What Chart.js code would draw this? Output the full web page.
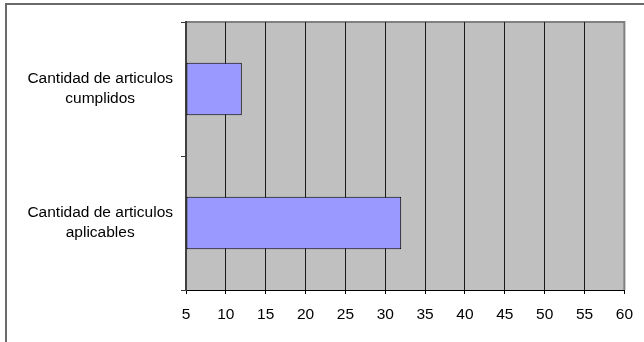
<!DOCTYPE html>
<html>
<head>
<meta charset="utf-8">
<script src="https://cdn.jsdelivr.net/npm/chart.js@4/dist/chart.umd.min.js"></script>
<style>
  html, body { margin: 0; padding: 0; background: #fff; overflow: hidden; }
  #frame {
    position: absolute; left: 5px; top: 3px; width: 700px; height: 400px;
    border-left: 2px solid #6a6a6a; border-top: 2px solid #6a6a6a;
  }
  #wrap { position: absolute; left: 0; top: 0; width: 644px; height: 342px; }
</style>
</head>
<body>
<div id="frame"></div>
<div id="wrap"><canvas id="chart"></canvas></div>
<script>
const categories = [
  ["Cantidad de articulos", "cumplidos"],
  ["Cantidad de articulos", "aplicables"]
];
const values = [12, 32];
const xMin = 5;
const xMax = 60;
const xStep = 5;

// gray plot background with a lighter frame on top and right
const plotBackground = {
  id: "plotBackground",
  beforeDraw(chart) {
    const { ctx, chartArea: a } = chart;
    ctx.save();
    ctx.fillStyle = "#c0c0c0";
    ctx.fillRect(a.left, a.top, a.right - a.left, a.bottom - a.top);
    ctx.strokeStyle = "#808080";
    ctx.lineWidth = 2;
    ctx.beginPath();
    ctx.moveTo(a.left, a.top);
    ctx.lineTo(a.right, a.top);
    ctx.lineTo(a.right, a.bottom);
    ctx.stroke();
    ctx.restore();
  }
};

Chart.defaults.font.family = "'Liberation Sans', Arial, sans-serif";
Chart.defaults.color = "#000";

new Chart(document.getElementById("chart").getContext("2d"), {
  type: "bar",
  data: {
    labels: categories,
    datasets: [{
      data: values,
      base: xMin,
      backgroundColor: "#9999ff",
      borderColor: "#000",
      borderWidth: 1,
      borderSkipped: false,
      barPercentage: 0.39,
      categoryPercentage: 1
    }]
  },
  options: {
    indexAxis: "y",
    responsive: true,
    maintainAspectRatio: false,
    animation: false,
    layout: { padding: { left: 10, top: 22, right: 18, bottom: 0 } },
    plugins: {
      legend: { display: false },
      tooltip: { enabled: false }
    },
    scales: {
      x: {
        min: xMin,
        max: xMax,
        afterFit: s => { s.height = 52; },
        grid: {
          color: c => (c.tick && c.tick.value === xMax ? "#808080" : "#1a1a1a"),
          lineWidth: 1,
          tickLength: 4,
          tickColor: "#000"
        },
        border: { color: "#000", width: 1 },
        ticks: {
          stepSize: xStep,
          padding: 11,
          maxRotation: 0,
          font: { size: 15.5 },
          color: "#000"
        }
      },
      y: {
        afterFit: s => {
          s.width = 176;
          s.paddingTop = 0;
          s.paddingBottom = 0;
        },
        grid: {
          drawOnChartArea: false,
          tickLength: 5,
          tickColor: "#333"
        },
        border: { color: "#404040", width: 2 },
        ticks: {
          crossAlign: "center",
          padding: 8,
          font: { size: 15.5, lineHeight: 1.3 },
          color: "#000"
        }
      }
    }
  },
  plugins: [plotBackground]
});
</script>
</body>
</html>
